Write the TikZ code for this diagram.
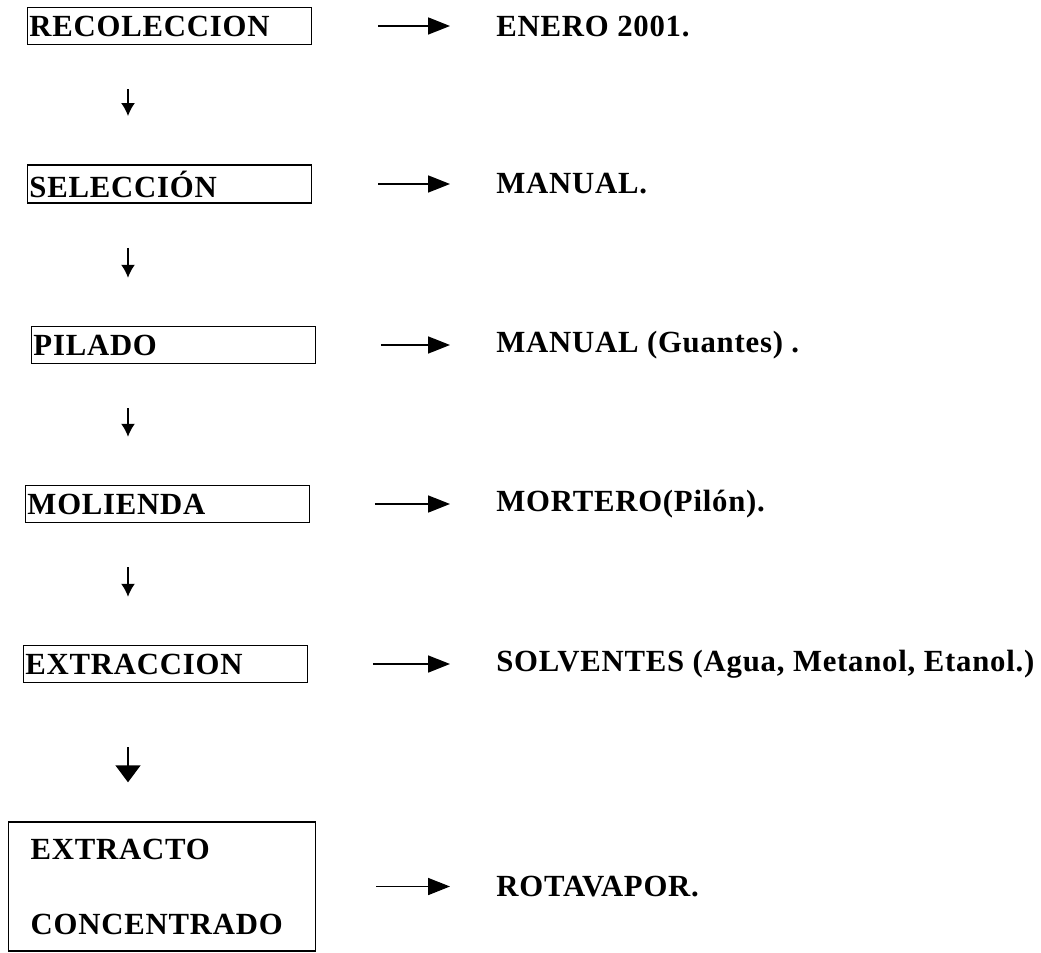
\documentclass[tikz,border=0pt]{standalone}
\usepackage{fontspec}
\setmainfont{Liberation Serif}[LetterSpace=2.5]
\usetikzlibrary{arrows.meta}

\begin{document}
\begin{tikzpicture}[font=\fontsize{17.5}{20}\selectfont\bfseries]
		\def\arow{-0.52}
		\def\brow{-3.68}
		\def\crow{-6.90}
		\def\drow{-10.08}
		\def\erow{-13.28}
		\def\frow{-17.73}
		\def\boxcol{0.54}
		\def\outcol{9.92}

		\tikzset{
			basic/.style={rectangle, draw=black, line width=0.8pt, align=left},
			stepnode/.style={basic, text width=5.6cm, inner xsep=1pt, minimum height=0.74cm, anchor=west},
			bignode/.style={basic, text width=5.26cm, inner xsep=0.44cm, minimum height=2.58cm, anchor=west},
			outtext/.style={anchor=west, inner sep=0pt},
			sarrow/.style={-{Triangle[length=4.4mm,width=3.4mm]}, line width=1.0pt, shorten <=1.33cm, shorten >=0.92cm},
			darrow/.style={-{Latex[length=2.6mm,width=2.8mm]}, line width=1.0pt, shorten <=0.88cm, shorten >=0.96cm},
			barrow/.style={-{Triangle[length=3.4mm,width=5mm]}, line width=0.9pt, shorten <=1.28cm, shorten >=0.78cm}
		}

		\useasboundingbox (0,0) rectangle (20.82,-19.06);

		% process steps

		\node[stepnode] (FL_REC) at (\boxcol,\arow) {RECOLECCION};
		\node[stepnode] (FL_SEL) at (\boxcol,\brow) {SELECCIÓN};
		\node[stepnode] (FL_PIL) at (0.62,\crow) {PILADO};
		\node[stepnode] (FL_MOL) at (0.50,\drow) {MOLIENDA};
		\node[stepnode] (FL_EXT) at (0.46,\erow) {EXTRACCION};
		\node[bignode] (FL_CON) at (0.16,\frow) {EXTRACTO\\[22.7pt]CONCENTRADO};

		% notes on the right

		\node[outtext] (OUT_REC) at (\outcol,\arow) {ENERO 2001.};
		\node[outtext] (OUT_SEL) at (\outcol,\brow) {MANUAL.};
		\node[outtext] (OUT_PIL) at (\outcol,\crow) {MANUAL (Guantes) .};
		\node[outtext] (OUT_MOL) at (\outcol,\drow) {MORTERO(Pilón).};
		\node[outtext] (OUT_EXT) at (\outcol,\erow) {SOLVENTES (Agua, Metanol, Etanol.)};
		\node[outtext] (OUT_CON) at (\outcol,\frow) {ROTAVAPOR.};

		% flow arrows

		\coordinate (col) at (2.56,0);
		\draw[darrow] (FL_REC.south -| col) -- (FL_SEL.north -| col);
		\draw[darrow] (FL_SEL.south -| col) -- (FL_PIL.north -| col);
		\draw[darrow] (FL_PIL.south -| col) -- (FL_MOL.north -| col);
		\draw[darrow] (FL_MOL.south -| col) -- (FL_EXT.north -| col);
		\draw[barrow] (FL_EXT.south -| col) -- (FL_CON.north -| col);

		% side arrows

		\draw[sarrow] (FL_REC.east) -- (OUT_REC.west);
		\draw[sarrow] (FL_SEL.east) -- (OUT_SEL.west);
		\draw[sarrow, shorten <=1.30cm] (FL_PIL.east) -- (OUT_PIL.west);
		\draw[sarrow, shorten <=1.30cm] (FL_MOL.east) -- (OUT_MOL.west);
		\draw[sarrow, shorten <=1.30cm] (FL_EXT.east) -- (OUT_EXT.west);
		\draw[sarrow, shorten <=1.20cm] (FL_CON.east) -- (OUT_CON.west);
	\end{tikzpicture}
\end{document}
